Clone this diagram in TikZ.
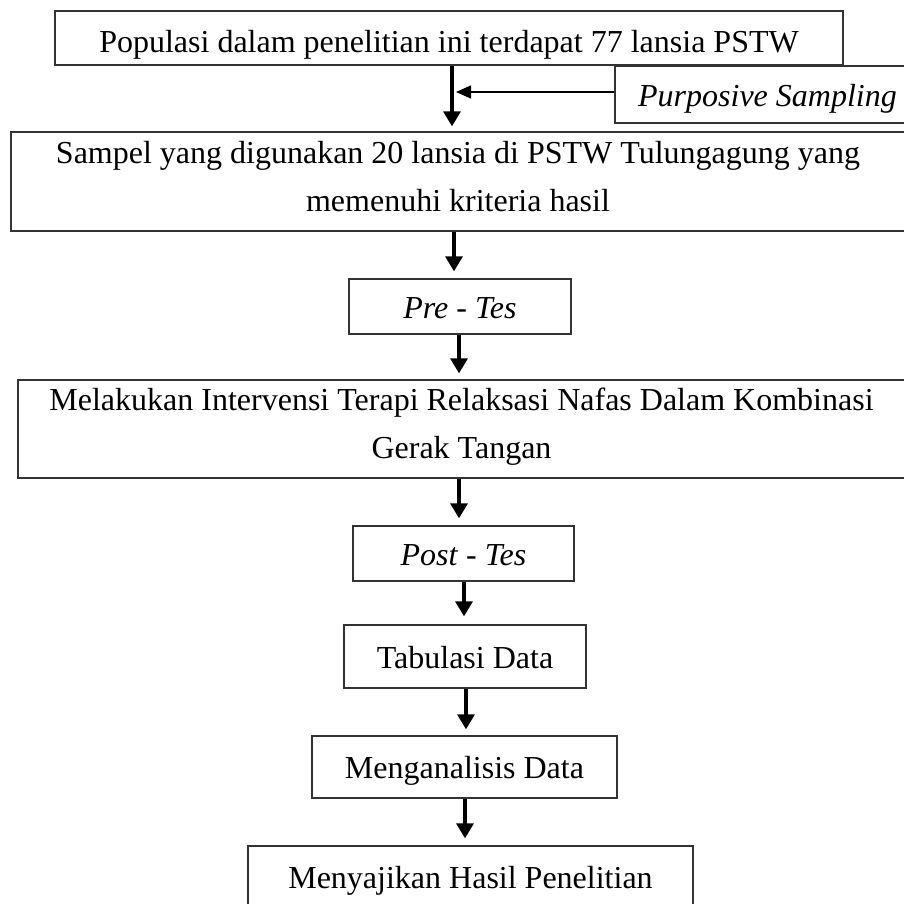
\documentclass[tikz,border=0pt]{standalone}
\usepackage{fontspec}
\setmainfont{Liberation Serif}
\usetikzlibrary{arrows.meta}
\newcommand{\lowstrut}{\rule[-11pt]{0pt}{11pt}}
\begin{document}
\begin{tikzpicture}[x=1pt,y=-1pt,
  box/.style={draw=black!80, line width=1.3pt, inner sep=0pt, align=center,
    font=\fontsize{32}{48}\selectfont},
  onebox/.style={box, text height=30pt, text depth=7pt},
  arr/.style={line width=3.2pt, -{Triangle[length=15pt,width=17pt]}},
  thinarr/.style={line width=1.5pt, -{Triangle[length=15pt,width=13pt]}}]
\clip (0,0) rectangle (904,903);
\fill[white] (0,0) rectangle (904,903);

\node[onebox, minimum width=788pt, minimum height=54pt] (pop) at (449,38)
  {\raisebox{-3pt}{Populasi dalam penelitian ini terdapat 77 lansia PSTW}};
\node[onebox, minimum width=305pt, minimum height=57pt] (purp) at (767.5,94.5)
  {\textit{Purposive Sampling}};
\node[box, minimum width=894pt, minimum height=99pt] (samp) at (458,181.5)
  {Sampel yang digunakan 20 lansia di PSTW Tulungagung yang\\memenuhi kriteria hasil\lowstrut};
\node[onebox, minimum width=222pt, minimum height=55pt] (pre) at (460,306.5)
  {\textit{Pre} - \textit{Tes}};
\node[box, minimum width=887pt, minimum height=98pt] (interv) at (461.5,429)
  {Melakukan Intervensi Terapi Relaksasi Nafas Dalam Kombinasi\\Gerak Tangan\lowstrut};
\node[onebox, minimum width=221pt, minimum height=55pt] (post) at (463.5,553.5)
  {\textit{Post} - \textit{Tes}};
\node[onebox, minimum width=242pt, minimum height=63pt] (tab) at (465,656.5)
  {Tabulasi Data};
\node[onebox, minimum width=305pt, minimum height=62pt] (anal) at (464.5,767)
  {Menganalisis Data};
\node[onebox, minimum width=445pt, minimum height=62pt] (saji) at (470.5,877)
  {Menyajikan Hasil Penelitian};

\coordinate (j) at (452,92);

\draw[arr, shorten >=5pt] ([xshift=3pt]pop.south) -- ([xshift=-6pt]samp.north);
\draw[thinarr, shorten >=4pt] ([yshift=2.5pt]purp.west) -- (j);
\draw[arr, shorten >=7pt] ([xshift=-4pt]samp.south) -- ([xshift=-6pt]pre.north);
\draw[arr, shorten >=6pt] ([xshift=-1pt]pre.south) -- ([xshift=-2.5pt]interv.north);
\draw[arr, shorten >=7pt] ([xshift=-2.5pt]interv.south) -- ([xshift=-4.5pt]post.north);
\draw[arr, shorten >=8pt] ([xshift=0.5pt]post.south) -- ([xshift=-1pt]tab.north);
\draw[arr, shorten >=6pt] ([xshift=1pt]tab.south) -- ([xshift=1.5pt]anal.north);
\draw[arr, shorten >=7pt] ([xshift=0.5pt]anal.south) -- ([xshift=-5.5pt]saji.north);
\end{tikzpicture}
\end{document}
